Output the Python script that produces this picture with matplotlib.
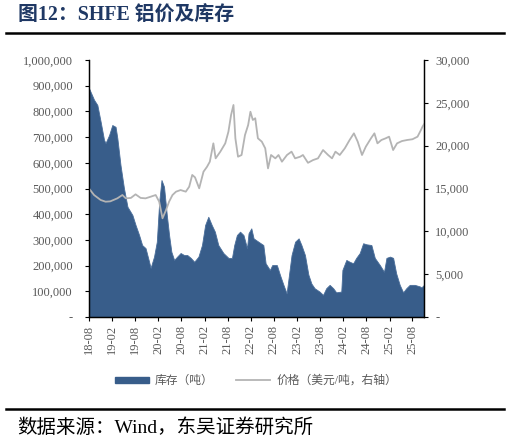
import matplotlib
matplotlib.use('Agg')
import matplotlib.pyplot as plt
import matplotlib.dates as mdates
import numpy as np
import pandas as pd
from matplotlib.patches import Patch
from matplotlib.lines import Line2D
from matplotlib.ticker import FuncFormatter, MultipleLocator

# SHFE aluminium stock (tonnes)
stock_dates = ['2018-08-01', '2018-09-10', '2018-10-06', '2018-11-01', '2018-11-28', '2018-12-10',
               '2019-01-07', '2019-02-01', '2019-02-27', '2019-03-13', '2019-04-07', '2019-05-04',
               '2019-06-01', '2019-07-10', '2019-08-04', '2019-09-01', '2019-09-25', '2019-10-22',
               '2019-11-19', '2019-12-01', '2019-12-28', '2020-01-19', '2020-02-07', '2020-02-25',
               '2020-03-16', '2020-04-07', '2020-04-25', '2020-05-13', '2020-06-04', '2020-06-28',
               '2020-07-25', '2020-08-22', '2020-09-16', '2020-10-13', '2020-11-10', '2020-12-13',
               '2021-01-10', '2021-02-04', '2021-03-01', '2021-03-28', '2021-04-22', '2021-05-19',
               '2021-06-28', '2021-08-07', '2021-09-04', '2021-09-22', '2021-10-13', '2021-11-07',
               '2021-12-04', '2022-01-01', '2022-01-13', '2022-02-04', '2022-02-22', '2022-04-01',
               '2022-05-10', '2022-05-28', '2022-07-01', '2022-07-19', '2022-08-25', '2022-09-19',
               '2022-10-16', '2022-11-10', '2022-12-19', '2023-01-16', '2023-02-13', '2023-03-07',
               '2023-04-04', '2023-05-01', '2023-05-25', '2023-06-19', '2023-07-28', '2023-08-25',
               '2023-09-19', '2023-10-16', '2023-11-13', '2023-12-07', '2024-01-16', '2024-01-25',
               '2024-02-25', '2024-03-22', '2024-04-19', '2024-05-13', '2024-06-10', '2024-07-07',
               '2024-08-01', '2024-09-10', '2024-10-07', '2024-11-16', '2024-12-19', '2025-01-07',
               '2025-02-04', '2025-03-01', '2025-03-25', '2025-04-22', '2025-05-19', '2025-06-13',
               '2025-07-10', '2025-08-19', '2025-09-28', '2025-10-10', '2025-10-31']
stock = [890, 845, 825, 760, 689, 677,
         708, 747, 740, 696, 591, 502,
         429, 397, 358, 319, 280, 268,
         215, 191, 235, 293, 449, 533,
         507, 397, 319, 254, 222, 235,
         249, 241, 241, 230, 215, 235,
         280, 358, 390, 358, 332, 280,
         249, 230, 230, 280, 319, 332,
         319, 268, 326, 345, 306, 293,
         280, 209, 183, 202, 202, 163,
         125, 92, 241, 293, 306, 280,
         241, 165, 130, 112, 99, 86,
         112, 125, 112, 96, 99, 183,
         222, 215, 209, 230, 249, 287,
         283, 280, 230, 202, 176, 230,
         235, 230, 170, 125, 96, 112,
         125, 125, 119, 115, 125]
stock = [v * 1000 for v in stock]

# aluminium price, right axis
price_dates = ['2018-08-01', '2018-09-10', '2018-11-01', '2018-12-10', '2019-01-16', '2019-03-13',
               '2019-04-22', '2019-05-19', '2019-06-28', '2019-08-04', '2019-09-13', '2019-10-22',
               '2019-12-01', '2020-01-10', '2020-02-07', '2020-03-04', '2020-04-01', '2020-04-25',
               '2020-05-22', '2020-06-19', '2020-07-25', '2020-09-04', '2020-10-01', '2020-10-25',
               '2020-11-16', '2020-12-19', '2021-01-22', '2021-02-19', '2021-03-13', '2021-04-10',
               '2021-04-28', '2021-06-04', '2021-07-13', '2021-08-07', '2021-08-28', '2021-09-16',
               '2021-10-01', '2021-10-22', '2021-11-19', '2021-12-16', '2022-01-10', '2022-01-28',
               '2022-02-16', '2022-03-07', '2022-03-28', '2022-04-28', '2022-05-25', '2022-06-16',
               '2022-07-10', '2022-08-13', '2022-09-07', '2022-10-04', '2022-11-13', '2022-12-19',
               '2023-01-16', '2023-02-25', '2023-03-19', '2023-04-28', '2023-06-07', '2023-07-16',
               '2023-08-25', '2023-10-04', '2023-11-04', '2023-12-01', '2024-01-04', '2024-02-13',
               '2024-03-22', '2024-04-25', '2024-05-25', '2024-06-28', '2024-07-28', '2024-09-07',
               '2024-10-04', '2024-10-28', '2024-11-28', '2025-01-01', '2025-01-28', '2025-03-01',
               '2025-04-01', '2025-05-10', '2025-06-19', '2025-08-01', '2025-09-10', '2025-10-07',
               '2025-10-19', '2025-10-31']
price = [15000, 14240, 13660, 13460, 13500, 13850,
         14240, 13850, 13900, 14320, 13900, 13850,
         14040, 14240, 13460, 11520, 12490, 13460,
         14240, 14630, 14820, 14630, 15210, 16580,
         16300, 15020, 16960, 17540, 18130, 20270,
         18520, 19300, 20270, 21630, 23580, 24750,
         20860, 18710, 18910, 21240, 22410, 23960,
         23000, 23200, 20860, 20470, 19690, 17350,
         18910, 18520, 18910, 18130, 18910, 19300,
         18520, 18710, 18910, 18000, 18320, 18520,
         19490, 18910, 18520, 19300, 18910, 19690,
         20660, 21440, 20470, 18910, 19880, 20860,
         21440, 20270, 20660, 20860, 21050, 19490,
         20270, 20540, 20660, 20750, 21050, 21830,
         22210, 22500]

tick_dates = pd.date_range('2018-08-01', '2025-08-01', freq='6MS')

blue = '#385D8A'
grey = '#B4B4B4'
cjk = ['Liberation Serif', 'Noto Sans CJK SC']

fig = plt.figure(figsize=(5.1, 4.43), dpi=100)
ax = fig.add_axes([89 / 510, 1 - 317 / 443, 335 / 510, 257 / 443])
ax2 = ax.twinx()

sd = pd.to_datetime(stock_dates)
pdts = pd.to_datetime(price_dates)
ax.fill_between(sd, stock, 0, color=blue, lw=0.6, edgecolor='#4A6E9A')
ax2.plot(pdts, price, color=grey, lw=1.3)

ax.set_xlim(pd.Timestamp('2018-08-01'), pd.Timestamp('2025-10-31'))
ax.set_ylim(0, 1000000)
ax2.set_ylim(0, 30000)
ax.yaxis.set_major_locator(MultipleLocator(100000))
ax2.yaxis.set_major_locator(MultipleLocator(5000))
fmt = FuncFormatter(lambda v, p: '-' if v == 0 else f'{v:,.0f}')
ax.yaxis.set_major_formatter(fmt)
ax2.yaxis.set_major_formatter(fmt)

ax.set_xticks(tick_dates)
ax.xaxis.set_major_formatter(mdates.DateFormatter('%y-%m'))
for t in ax.get_xticklabels():
    t.set_rotation(90)

for a in (ax, ax2):
    a.tick_params(axis='both', direction='out', length=3, width=0.8, labelsize=9,
                  colors='black', labelcolor='#595959')
    for lab in a.get_xticklabels() + a.get_yticklabels():
        lab.set_fontfamily('Liberation Serif')
    a.spines['top'].set_visible(False)
    for s in ('left', 'right', 'bottom'):
        a.spines[s].set_color('black')
        a.spines[s].set_linewidth(0.9)
ax.tick_params(axis='y', pad=8.5)
ax.tick_params(axis='x', pad=3)
ax2.tick_params(axis='y', pad=5)

handles = [Patch(facecolor=blue, edgecolor=blue),
           Line2D([0], [0], color=grey, lw=1.3)]
labels = ['库存（吨）', '价格（美元/吨，右轴）']
fig.legend(handles, labels, loc='center', bbox_to_anchor=(256 / 510, 1 - 381 / 443), ncol=2,
           frameon=False, handlelength=2.9, handleheight=0.4, columnspacing=1.9, handletextpad=0.5,
           prop={'family': cjk, 'size': 8.5}, labelcolor='#595959')

fig.text(18 / 510, 1 - 16 / 443, '图12：SHFE 铝价及库存', family=cjk, fontsize=14.3,
         fontweight='bold', color='#1F3864', va='center')
fig.add_artist(Line2D([6 / 510, 504 / 510], [1 - 33 / 443] * 2, color='black', lw=1.8))
fig.add_artist(Line2D([6 / 510, 504 / 510], [1 - 409 / 443] * 2, color='black', lw=1.8))
fig.text(17 / 510, 1 - 428 / 443, '数据来源：Wind，东吴证券研究所', family=cjk, fontsize=14,
         color='black', va='center')

fig.savefig('out.png', dpi=100)
